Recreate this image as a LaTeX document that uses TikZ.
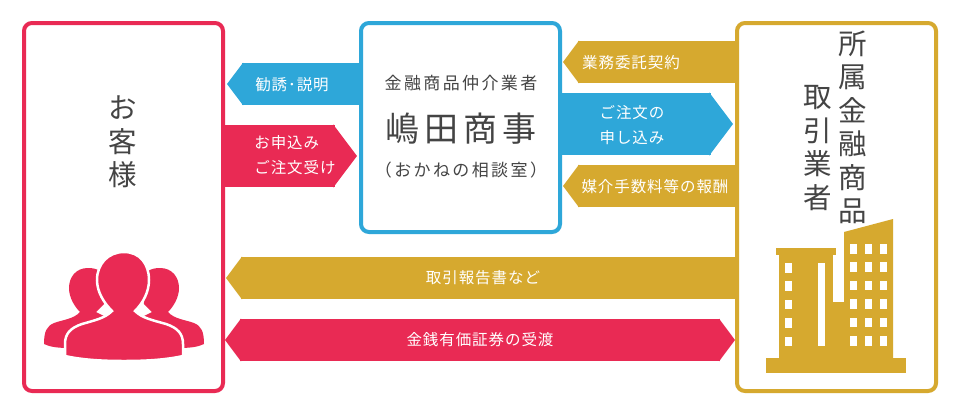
\documentclass[tikz,border=0pt]{standalone}
\usepackage{fontspec}
\usepackage{xcolor}
\usetikzlibrary{arrows.meta}
\newfontfamily\bandfont[LetterSpace=6]{Noto Sans CJK JP}
\newfontfamily\titlefont[LetterSpace=14]{Noto Sans CJK JP}
\newfontfamily\bigfont{Noto Sans CJK JP}
\definecolor{clientcolor}{RGB}{233,42,84}
\definecolor{brokercolor}{RGB}{46,167,217}
\definecolor{vendorcolor}{RGB}{214,169,47}
\definecolor{inkcolor}{RGB}{68,68,68}

\begin{document}
\begin{tikzpicture}[
    x=1pt, y=-1pt,
    panel/.style={draw, line width=4pt, fill=white, minimum width=199pt, rounded corners=8pt},
    bandlabel/.style={text=white, font=\bandfont\fontsize{15.5}{25}\selectfont, align=left, inner sep=0pt},
    headline/.style={text=inkcolor, font=\bigfont\fontsize{28.5}{33.5}\selectfont, align=center, inner sep=0pt},
    bluelink/.style={line width=#1, brokercolor, -{Triangle[length=#1/2.6, width=#1]}},
    redlink/.style={line width=#1, clientcolor, -{Triangle[length=#1/2.6, width=#1]}},
    goldlink/.style={line width=42pt, vendorcolor, -{Triangle[length=16pt, width=42pt]}},
    bothlink/.style={line width=42pt, clientcolor, {Triangle[length=16pt, width=42pt]}-{Triangle[length=16pt, width=42pt]}}
]
    \fill[white] (0,0) rectangle (960,418);

    % Panels
    \node[panel, draw=clientcolor, minimum height=368pt] (client) at (123.5,207) {};
    \node[panel, draw=brokercolor, minimum height=209pt] (broker) at (460.5,127.5) {};
    \node[panel, draw=vendorcolor, minimum height=368pt] (vendor) at (836.5,207) {};

    % Bands
    \draw[bluelink=42pt, shorten >=2pt] (broker.west |- 0,84) -- (client.east |- 0,84);
    \draw[redlink=62pt, shorten >=2pt] (client.east |- 0,156) -- (broker.west |- 0,156);
    \draw[bluelink=62pt, shorten >=2pt] (broker.east |- 0,124) -- (vendor.west |- 0,124);
    \draw[goldlink, shorten >=1pt] (vendor.west |- 0,62) -- (broker.east |- 0,62);
    \draw[goldlink, shorten >=1pt] (vendor.west |- 0,186) -- (broker.east |- 0,186);
    \draw[goldlink, shorten >=1pt] (vendor.west |- 0,278) -- (client.east |- 0,278);
    \draw[bothlink] (client.east |- 0,340) -- (vendor.west |- 0,340);

    % Band labels
    \node[bandlabel] (invite) at (292,84.5) {勧誘･説明};
    \node[bandlabel] (accept) at (295,155.5) {お申込み\\ご注文受け};
    \node[bandlabel] (apply) at (632,125.5) {ご注文の\\申し込み};
    \node[bandlabel] (contract) at (631,63) {業務委託契約};
    \node[bandlabel] (commission) at (655,187) {媒介手数料等の報酬};
    \node[bandlabel] (report) at (483,278) {取引報告書など};
    \node[bandlabel] (transfer) at (480,340) {金銭有価証券の受渡};

    % Panel texts
    \node[headline] (customer) at (123,142) {お\\客\\様};
    \node[headline, font=\titlefont\fontsize{17}{20}\selectfont] (brokertype) at (461,83) {金融商品仲介業者};
    \node[headline, font=\titlefont\fontsize{34}{40}\selectfont] (brokername) at (461,129) {嶋田商事};
    \node[headline, font=\titlefont\fontsize{17}{20}\selectfont] (brokernote) at (461,170) {（おかねの相談室）};
    \node[headline] (vendorright) at (853,127.5) {所\\属\\金\\融\\商\\品};
    \node[headline] (vendorleft) at (818,148) {取\\引\\業\\者};

    % People
    \foreach \flip/\shift in {1/0, -1/248}{
        \fill[clientcolor, xshift=\shift pt, xscale=\flip] (88,268) .. controls (76,268) and (69,277) .. (69,288)
            .. controls (69,297) and (74,306) .. (80,312) .. controls (74,319) and (62,320) .. (54,323)
            .. controls (47,326) and (44,331) .. (44,344) .. controls (50,347) and (58,348) .. (70,348)
            -- (118,330) -- (104,316) -- (96,312) -- (104,304) -- (106,280)
            .. controls (104,272) and (98,268) .. (88,268) -- cycle;
    }
    \filldraw[fill=clientcolor, draw=white, line width=2.5pt] (112,311) .. controls (104,303) and (97,292) .. (97,280)
        .. controls (97,264) and (108,252) .. (124,252) .. controls (140,252) and (149,264) .. (149,280)
        .. controls (149,292) and (143,303) .. (135,311) .. controls (142,318) and (152,320) .. (166,324)
        .. controls (178,328) and (183,334) .. (183,344) -- (183,356) .. controls (165,360) and (145,361) .. (124,361)
        .. controls (103,361) and (83,360) .. (65,356) -- (65,344) .. controls (65,334) and (70,328) .. (82,324)
        .. controls (96,320) and (105,318) .. (112,311) -- cycle;

    % Building
    \fill[vendorcolor] (766,358) rectangle (906,373);
    \fill[vendorcolor] (776,248) rectangle (836,255);
    \fill[vendorcolor] (779,255) rectangle (833,358);
    \fill[vendorcolor] (833,302) rectangle (844,358);
    \fill[vendorcolor] (844,232) -- (893,219) -- (893,358) -- (844,358) -- cycle;
    \fill[white] (818,263) rectangle (825,346);
    \foreach \row in {0,...,4}{
        \fill[white] (785,263+18.4*\row) rectangle +(7,9.5);
    }
    \foreach \col in {850,865,880}{
        \foreach \row in {0,...,5}{
            \fill[white] (\col,244+18.4*\row) rectangle +(7,9.5);
        }
    }
\end{tikzpicture}
\end{document}
